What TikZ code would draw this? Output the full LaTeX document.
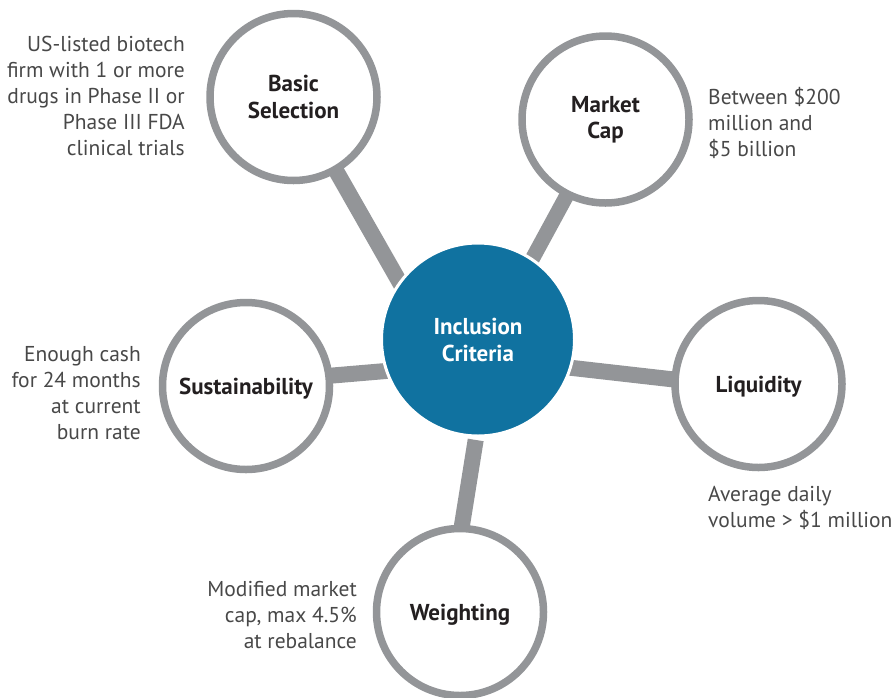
\documentclass[tikz,border=0pt]{standalone}
\usepackage{fontspec}
\setmainfont{PT Sans}
\usetikzlibrary{backgrounds}
\definecolor{ringgray}{HTML}{939598}
\definecolor{coreblue}{HTML}{1072A0}
\definecolor{desctext}{HTML}{484848}
\definecolor{titletext}{HTML}{231F20}
\begin{document}
\begin{tikzpicture}[x=1pt,y=-1pt,
  sat/.style={circle, draw=ringgray, line width=7.5pt, fill=white, minimum size=167pt,
    inner sep=0pt, outer sep=0pt, align=center,
    font=\fontsize{23}{26.5}\selectfont\bfseries, text=titletext},
  oneline/.style={text depth=0pt},
  core/.style={circle, draw=white, line width=3pt, fill=coreblue, minimum size=193pt,
    inner sep=0pt, outer sep=0pt, align=center,
    font=\fontsize{23}{27}\selectfont\bfseries, text=white},
  bar/.style={draw=ringgray, line width=16pt, shorten <=-6pt, shorten >=-6pt},
  desc/.style={font=\fontsize{21.5}{26}\selectfont, text=desctext, inner sep=0pt}
]
\useasboundingbox (0,0) rectangle (893,697);
\node[core] (core) at (478,339.5) {Inclusion\\Criteria};
\node[sat] (basic) at (293.5,97) {Basic\\Selection};
\node[sat] (market) at (605.5,119.5) {Market\\Cap};
\node[sat, oneline] (liq) at (758.5,384) {Liquidity};
\node[sat, oneline] (weight) at (460,612) {Weighting};
\node[sat, oneline] (sust) at (246,386) {Sustainability};
\begin{scope}[on background layer]
\draw[bar] (core.144) -- (basic.-60);
\draw[bar, line width=15pt] (core.56.8) -- (market.-117.4);
\draw[bar] (core.-17.6) -- (liq.177.8);
\draw[bar, shorten <=4pt] (core.-91.6) -- (weight.89);
\draw[bar] (core.199.6) -- (sust.7.4);
\end{scope}
\node[desc, anchor=east, align=right] (basicd) at (185,95.5)
  {US-listed biotech\\firm with 1 or more\\drugs in Phase II or\\Phase III FDA\\clinical trials};
\node[desc, anchor=west, align=left] (marketd) at (708,123)
  {Between \$200\\million and\\\$5 billion};
\node[desc, anchor=east, align=right] (sustd) at (141,393.5)
  {Enough cash\\for 24 months\\at current\\burn rate};
\node[desc, anchor=west, align=left] (liqd) at (708,508)
  {Average daily\\volume > \$1 million};
\node[desc, anchor=east, align=right] (weightd) at (357,615)
  {Modified market\\cap, max 4.5\%\\at rebalance};
\end{tikzpicture}
\end{document}
